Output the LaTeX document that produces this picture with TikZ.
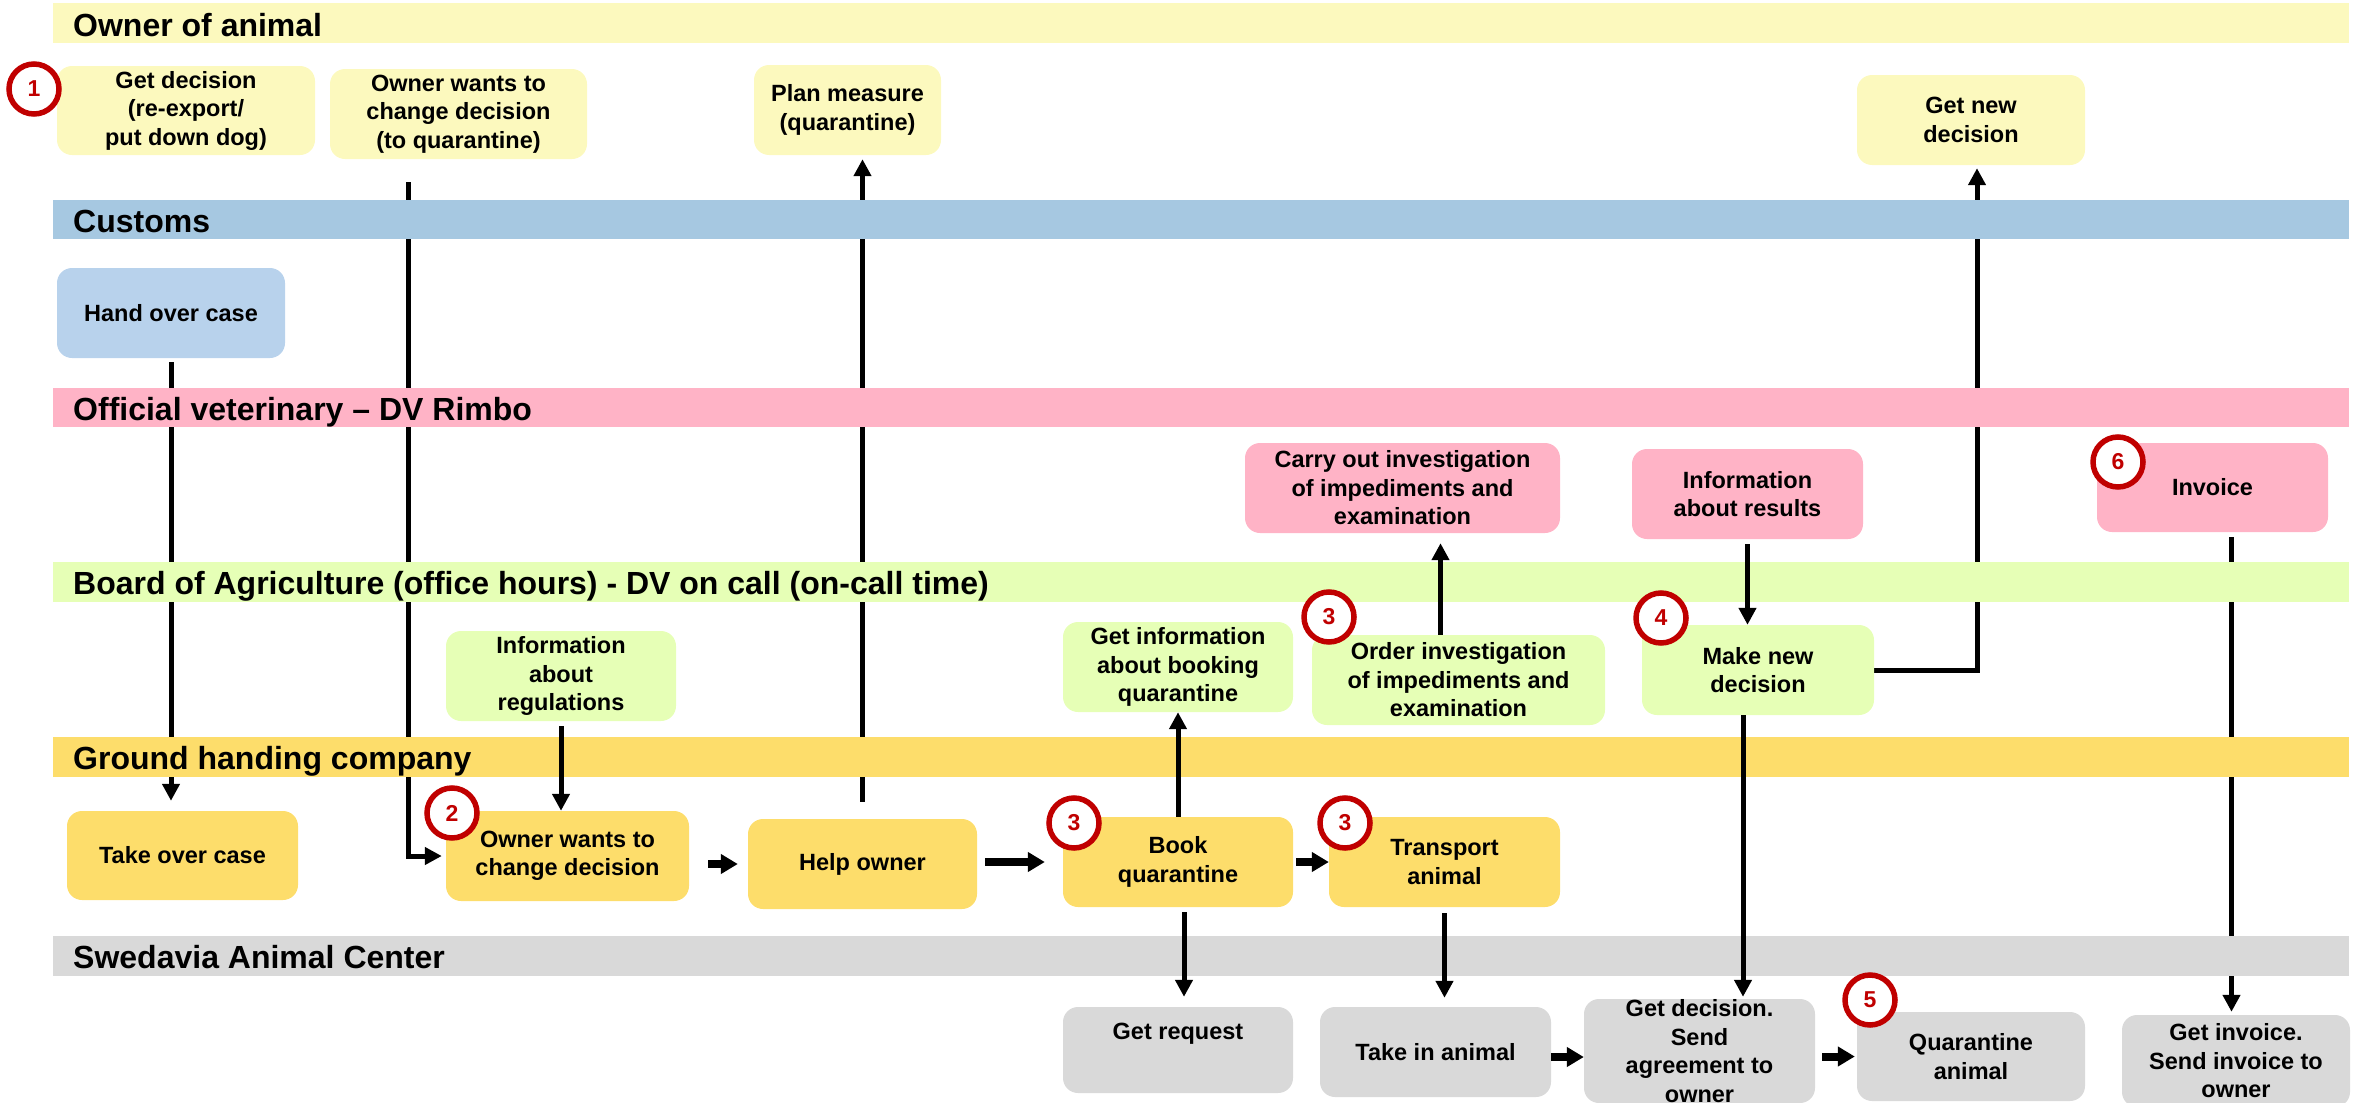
\documentclass[tikz,border=0pt]{standalone}
\usepackage{fontspec}
\setmainfont{Liberation Sans}
\usetikzlibrary{arrows.meta,calc}
\pgfdeclarelayer{bg}
\pgfdeclarelayer{lanes}
\pgfsetlayers{bg,lanes,main}
\definecolor{ownerC}{HTML}{FCF9BE}
\definecolor{custC}{HTML}{A6C8E1}
\definecolor{custN}{HTML}{B8D2EC}
\definecolor{vetC}{HTML}{FFB3C6}
\definecolor{boardC}{HTML}{E6FFB6}
\definecolor{groundC}{HTML}{FDDD6B}
\definecolor{swedC}{HTML}{D9D9D9}
\definecolor{numred}{HTML}{C00000}
\tikzset{
  box/.style={rounded corners=15pt, align=center, inner sep=0pt,
    font=\fontsize{23.5}{28.5}\selectfont\bfseries, text=black},
  lanetitle/.style={anchor=base west, inner sep=0pt,
    font=\fontsize{32}{36}\selectfont\bfseries},
  numc/.style={circle, draw=numred, line width=5.5pt, fill=white,
    minimum size=50pt, inner sep=0pt,
    font=\fontsize{23}{23}\selectfont\bfseries, text=numred},
  conn/.style={line width=5pt, -{Triangle[length=17pt,width=17pt]}},
  blk/.style={line width=8pt, -{Triangle[length=17pt,width=19pt]}}
}
\begin{document}
\begin{tikzpicture}[x=1pt,y=-1pt]
\useasboundingbox (0,0) rectangle (2354,1103);

% ---------- lanes ----------
\begin{pgfonlayer}{lanes}
\fill[ownerC]  (53,3)   rectangle (2349,43);
\fill[custC]   (53,200) rectangle (2349,239);
\fill[vetC]    (53,388) rectangle (2349,427);
\fill[boardC]  (53,562) rectangle (2349,602);
\fill[groundC] (53,737) rectangle (2349,777);
\fill[swedC]   (53,936) rectangle (2349,976);
\end{pgfonlayer}
\node[lanetitle] (tOwner)  at (73,36)  {Owner of animal};
\node[lanetitle] (tCust)   at (73,232) {Customs};
\node[lanetitle] (tVet)    at (73,420) {Official veterinary – DV Rimbo};
\node[lanetitle] (tBoard)  at (73,594) {Board of Agriculture (office hours) - DV on call (on-call time)};
\node[lanetitle] (tGround) at (73,769) {Ground handing company};
\node[lanetitle] (tSwed)   at (73,968) {Swedavia Animal Center};

% ---------- owner of animal ----------
\node[box, fill=ownerC, minimum width=258pt, minimum height=89pt] (getdec) at (186,110.5) {Get decision\\(re-export/\\put down dog)};
\node[box, fill=ownerC, minimum width=257pt, minimum height=90pt] (ownertop) at (458.5,114) {Owner wants to\\change decision\\(to quarantine)};
\node[box, fill=ownerC, minimum width=187pt, minimum height=90pt] (plan) at (847.5,110) {Plan measure\\(quarantine)};
\node[box, fill=ownerC, minimum width=228pt, minimum height=90pt] (getnew) at (1971,120) {Get new\\decision};

% ---------- customs ----------
\node[box, fill=custN, minimum width=228pt, minimum height=90pt] (hand) at (171,313) {Hand over case};

% ---------- official veterinary ----------
\node[box, fill=vetC, minimum width=315pt, minimum height=90pt] (carry) at (1402.5,488) {Carry out investigation\\of impediments and\\examination};
\node[box, fill=vetC, minimum width=231pt, minimum height=90pt] (infores) at (1747.5,494) {Information\\about results};
\node[box, fill=vetC, minimum width=231pt, minimum height=89pt] (invoice) at (2212.5,487.5) {Invoice};

% ---------- board of agriculture ----------
\node[box, fill=boardC, minimum width=230pt, minimum height=90pt] (inforegs) at (561,676) {Information\\about\\regulations};
\node[box, fill=boardC, minimum width=230pt, minimum height=90pt] (getinfo) at (1178,667) {Get information\\about booking\\quarantine};
\node[box, fill=boardC, minimum width=293pt, minimum height=90pt] (order) at (1458.5,680) {Order investigation\\of impediments and\\examination};
\node[box, fill=boardC, minimum width=232pt, minimum height=90pt] (makenew) at (1758,670) {Make new\\decision};

% ---------- ground handling ----------
\node[box, fill=groundC, minimum width=231pt, minimum height=89pt] (takeover) at (182.5,855.5) {Take over case};
\node[box, fill=groundC, minimum width=243pt, minimum height=90pt] (ownerg) at (567.5,856) {Owner wants to\\change decision};
\node[box, fill=groundC, minimum width=229pt, minimum height=90pt] (help) at (862.5,864) {Help owner};
\node[box, fill=groundC, minimum width=230pt, minimum height=90pt] (book) at (1178,862) {Book\\quarantine};
\node[box, fill=groundC, minimum width=231pt, minimum height=90pt] (transport) at (1444.5,862) {Transport\\animal};

% ---------- swedavia ----------
\node[box, fill=swedC, minimum width=230pt, minimum height=86pt] (getreq) at (1178,1050) {Get request\\\strut};
\node[box, fill=swedC, minimum width=231pt, minimum height=90pt] (takein) at (1435.5,1052) {Take in animal};
\node[box, fill=swedC, minimum width=231pt, minimum height=104pt] (getdecs) at (1699.5,1051) {Get decision.\\Send\\agreement to\\owner};
\node[box, fill=swedC, minimum width=228pt, minimum height=89pt] (quar) at (1971,1056.5) {Quarantine\\animal};
\node[box, fill=swedC, minimum width=228pt, minimum height=92pt] (getinv) at (2236,1061) {Get invoice.\\Send invoice to\\owner};

% ---------- connectors hidden behind the lanes ----------
\begin{pgfonlayer}{bg}
\draw[conn, shorten <=4pt, shorten >=10pt] (hand.south) -- (hand.south |- takeover.north);
\draw[conn, shorten >=4pt] ([xshift=-50.5pt, yshift=-23pt]ownertop.south) |- (ownerg.west);
\draw[conn, shorten <=17pt, shorten >=4pt] (help.north) -- (help.north |- plan.south);
\draw[conn, shorten >=3pt] (makenew.east) -| ([xshift=6pt]getnew.south);
\draw[conn, shorten <=5pt, shorten >=3pt] ([xshift=19pt]invoice.south) -- ([xshift=19pt]invoice.south |- getinv.north);
\end{pgfonlayer}

% ---------- connectors drawn over the lanes ----------
\draw[conn, shorten <=5pt] (inforegs.south) -- (inforegs.south |- ownerg.north);
\draw[conn] (book.north) -- (getinfo.south);
\draw[conn, shorten <=5pt, shorten >=10pt] ([xshift=6pt]book.south) -- ([xshift=6pt]book.south |- getreq.north);
\draw[conn, shorten <=6pt, shorten >=9pt] (transport.south) -- (transport.south |- takein.north);
\draw[conn, shorten >=10pt] ([xshift=-18pt]order.north) -- ([xshift=-18pt]order.north |- carry.south);
\draw[conn, shorten <=5pt] (infores.south) -- (infores.south |- makenew.north);
\draw[conn, shorten >=2pt] ([xshift=-15pt]makenew.south) -- ([xshift=-15pt]makenew.south |- getdecs.north);

\draw[blk, shorten <=19pt, shorten >=10pt] (ownerg.east |- help.west) -- (help.west);
\draw[blk, shorten <=8pt, shorten >=18pt] (help.east |- book.west) -- (book.west);
\draw[blk, shorten <=3pt] (book.east) -- (transport.west);
\draw[blk] ([yshift=-5pt]takein.east) -- ([yshift=-5pt]takein.east -| getdecs.west);
\draw[blk, shorten <=7pt, shorten >=2pt] (getdecs.east |- quar.west) -- (quar.west);

% ---------- step numbers ----------
\node[numc] (n1)  at (34,89)    {1};
\node[numc] (n2)  at (452,813)  {2};
\node[numc] (n3a) at (1329,617) {3};
\node[numc] (n3b) at (1074,823) {3};
\node[numc] (n3c) at (1345,823) {3};
\node[numc] (n4)  at (1661,618) {4};
\node[numc] (n5)  at (1870,1000) {5};
\node[numc] (n6)  at (2118,462) {6};
\end{tikzpicture}
\end{document}
